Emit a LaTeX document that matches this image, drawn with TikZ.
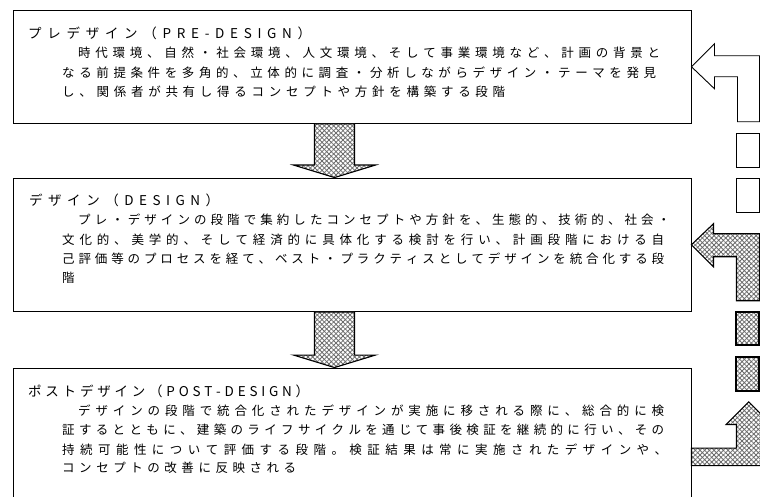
\documentclass[tikz,border=0pt]{standalone}
\usepackage{fontspec}
\setmainfont{Noto Sans CJK JP}
\usetikzlibrary{calc,patterns.meta}
% spread the characters of one line evenly over a given width
\def\spreadfirst#1{#1\spreadrest}
\def\spreadrest#1{\ifx#1\relax\else\hfil#1\expandafter\spreadrest\fi}
\newcommand\spreadline[2]{\hbox to #1{\spreadfirst#2\relax}}
\begin{document}
\begin{tikzpicture}[x=1pt, y=-1pt, line join=miter,
	stagebox/.style={draw, line width=0.9pt, inner sep=0pt, minimum width=678pt},
	txt/.style={anchor=west, inner sep=0pt, font=\fontsize{12.5}{14}\selectfont},
	ttl/.style={anchor=west, inner sep=0pt, font=\fontsize{13.5}{15}\selectfont},
	hollow/.style={draw, line width=0.9pt, fill=white},
	hatch/.style={draw, line width=1.1pt, preaction={fill=white},
		preaction={pattern={Lines[angle=45,distance=3.3pt,line width=0.8pt]}, pattern color=gray!85!black},
		pattern={Lines[angle=-45,distance=3.3pt,line width=0.8pt]}, pattern color=gray!85!black}]
	\useasboundingbox (0,0) rectangle (760,497);
	\clip (0,0) rectangle (760,497);
	% the three stages
	\node[stagebox, minimum height=113.5pt] (pre) at (352,66.75) {};
	\node[stagebox, minimum height=133.5pt] (des) at (352,244.75) {};
	\node[stagebox, minimum height=152pt] (post) at (352,444) {};
	% downward arrows
	\draw[hatch] ($(pre.south)+(-37.5,0)$) -- ($(des.north)+(-37.5,-12.5)$) -- ++(-21,0) -- ($(des.north)+(-17.5,0)$)
		-- ($(des.north)+(23.5,-12.5)$) -- ++(-21,0) -- ($(pre.south)+(2.5,0)$) -- cycle;
	\draw[hatch] ($(des.south)+(-37.5,0)$) -- ($(post.north)+(-37.5,-12.5)$) -- ++(-21,0) -- ($(post.north)+(-17.5,0)$)
		-- ($(post.north)+(23.5,-12.5)$) -- ++(-21,0) -- ($(des.south)+(2.5,0)$) -- cycle;
	% feedback on the right
	\draw[hollow] (pre.east) -- ++(23,-23) -- ++(0,12) -- ++(45,0) -- ++(0,66) -- ++(-22,0) -- ++(0,-45) -- ++(-23,0) -- ++(0,12) -- cycle;
	\draw[hollow] (736,133) rectangle (759,167);
	\draw[hollow] (736,178) rectangle (759,212);
	\draw[hatch] (des.east) -- ++(22,-21) -- ++(0,10) -- ++(46,0) -- ++(0,67) -- ++(-23,0) -- ++(0,-44) -- ++(-23,0) -- ++(0,10) -- cycle;
	\draw[hatch] (736,312) rectangle (759,345);
	\draw[hatch] (736,357) rectangle (759,391);
	\draw[hatch] ($(post.north east)+(0,80.5)$) -- ++(45,0) -- ++(0,-23.5) -- ++(-10.3,0) -- ++(22.6,-22.7) -- ++(22.7,22.7)
		-- ++(-10.4,0) -- ++(0,41) -- ($(post.north east)+(0,98)$) -- cycle;
	% texts
	\node[ttl] (preT) at (28,33) {\spreadline{283pt}{プレデザイン（PRE-DESIGN）}};
	\node[txt] (preA) at (78,52.7) {\spreadline{582pt}{時代環境、自然・社会環境、人文環境、そして事業環境など、計画の背景と}};
	\node[txt] (preB) at (62,72.3) {\spreadline{594pt}{なる前提条件を多角的、立体的に調査・分析しながらデザイン・テーマを発見}};
	\node[txt] (preC) at (62,91.7) {\spreadline{443pt}{し、関係者が共有し得るコンセプトや方針を構築する段階}};
	\node[ttl] (desT) at (29,200.7) {\spreadline{190pt}{デザイン（DESIGN）}};
	\node[txt] (desA) at (78,220) {\spreadline{592pt}{プレ・デザインの段階で集約したコンセプトや方針を、生態的、技術的、社会・}};
	\node[txt] (desB) at (62,239.5) {\spreadline{602pt}{文化的、美学的、そして経済的に具体化する検討を行い、計画段階における自}};
	\node[txt] (desC) at (62,259) {\spreadline{602pt}{己評価等のプロセスを経て、ベスト・プラクティスとしてデザインを統合化する段}};
	\node[txt] (desD) at (62,278) {階};
	\node[ttl] (postT) at (28,391.3) {\spreadline{281pt}{ポストデザイン（POST-DESIGN）}};
	\node[txt] (postA) at (78,410.7) {\spreadline{586pt}{デザインの段階で統合化されたデザインが実施に移される際に、総合的に検}};
	\node[txt] (postB) at (62,430) {\spreadline{602pt}{証するとともに、建築のライフサイクルを通じて事後検証を継続的に行い、その}};
	\node[txt] (postC) at (62,449.3) {\spreadline{605pt}{持続可能性について評価する段階。検証結果は常に実施されたデザインや、}};
	\node[txt] (postD) at (62,468) {\spreadline{234pt}{コンセプトの改善に反映される}};
\end{tikzpicture}
\end{document}
